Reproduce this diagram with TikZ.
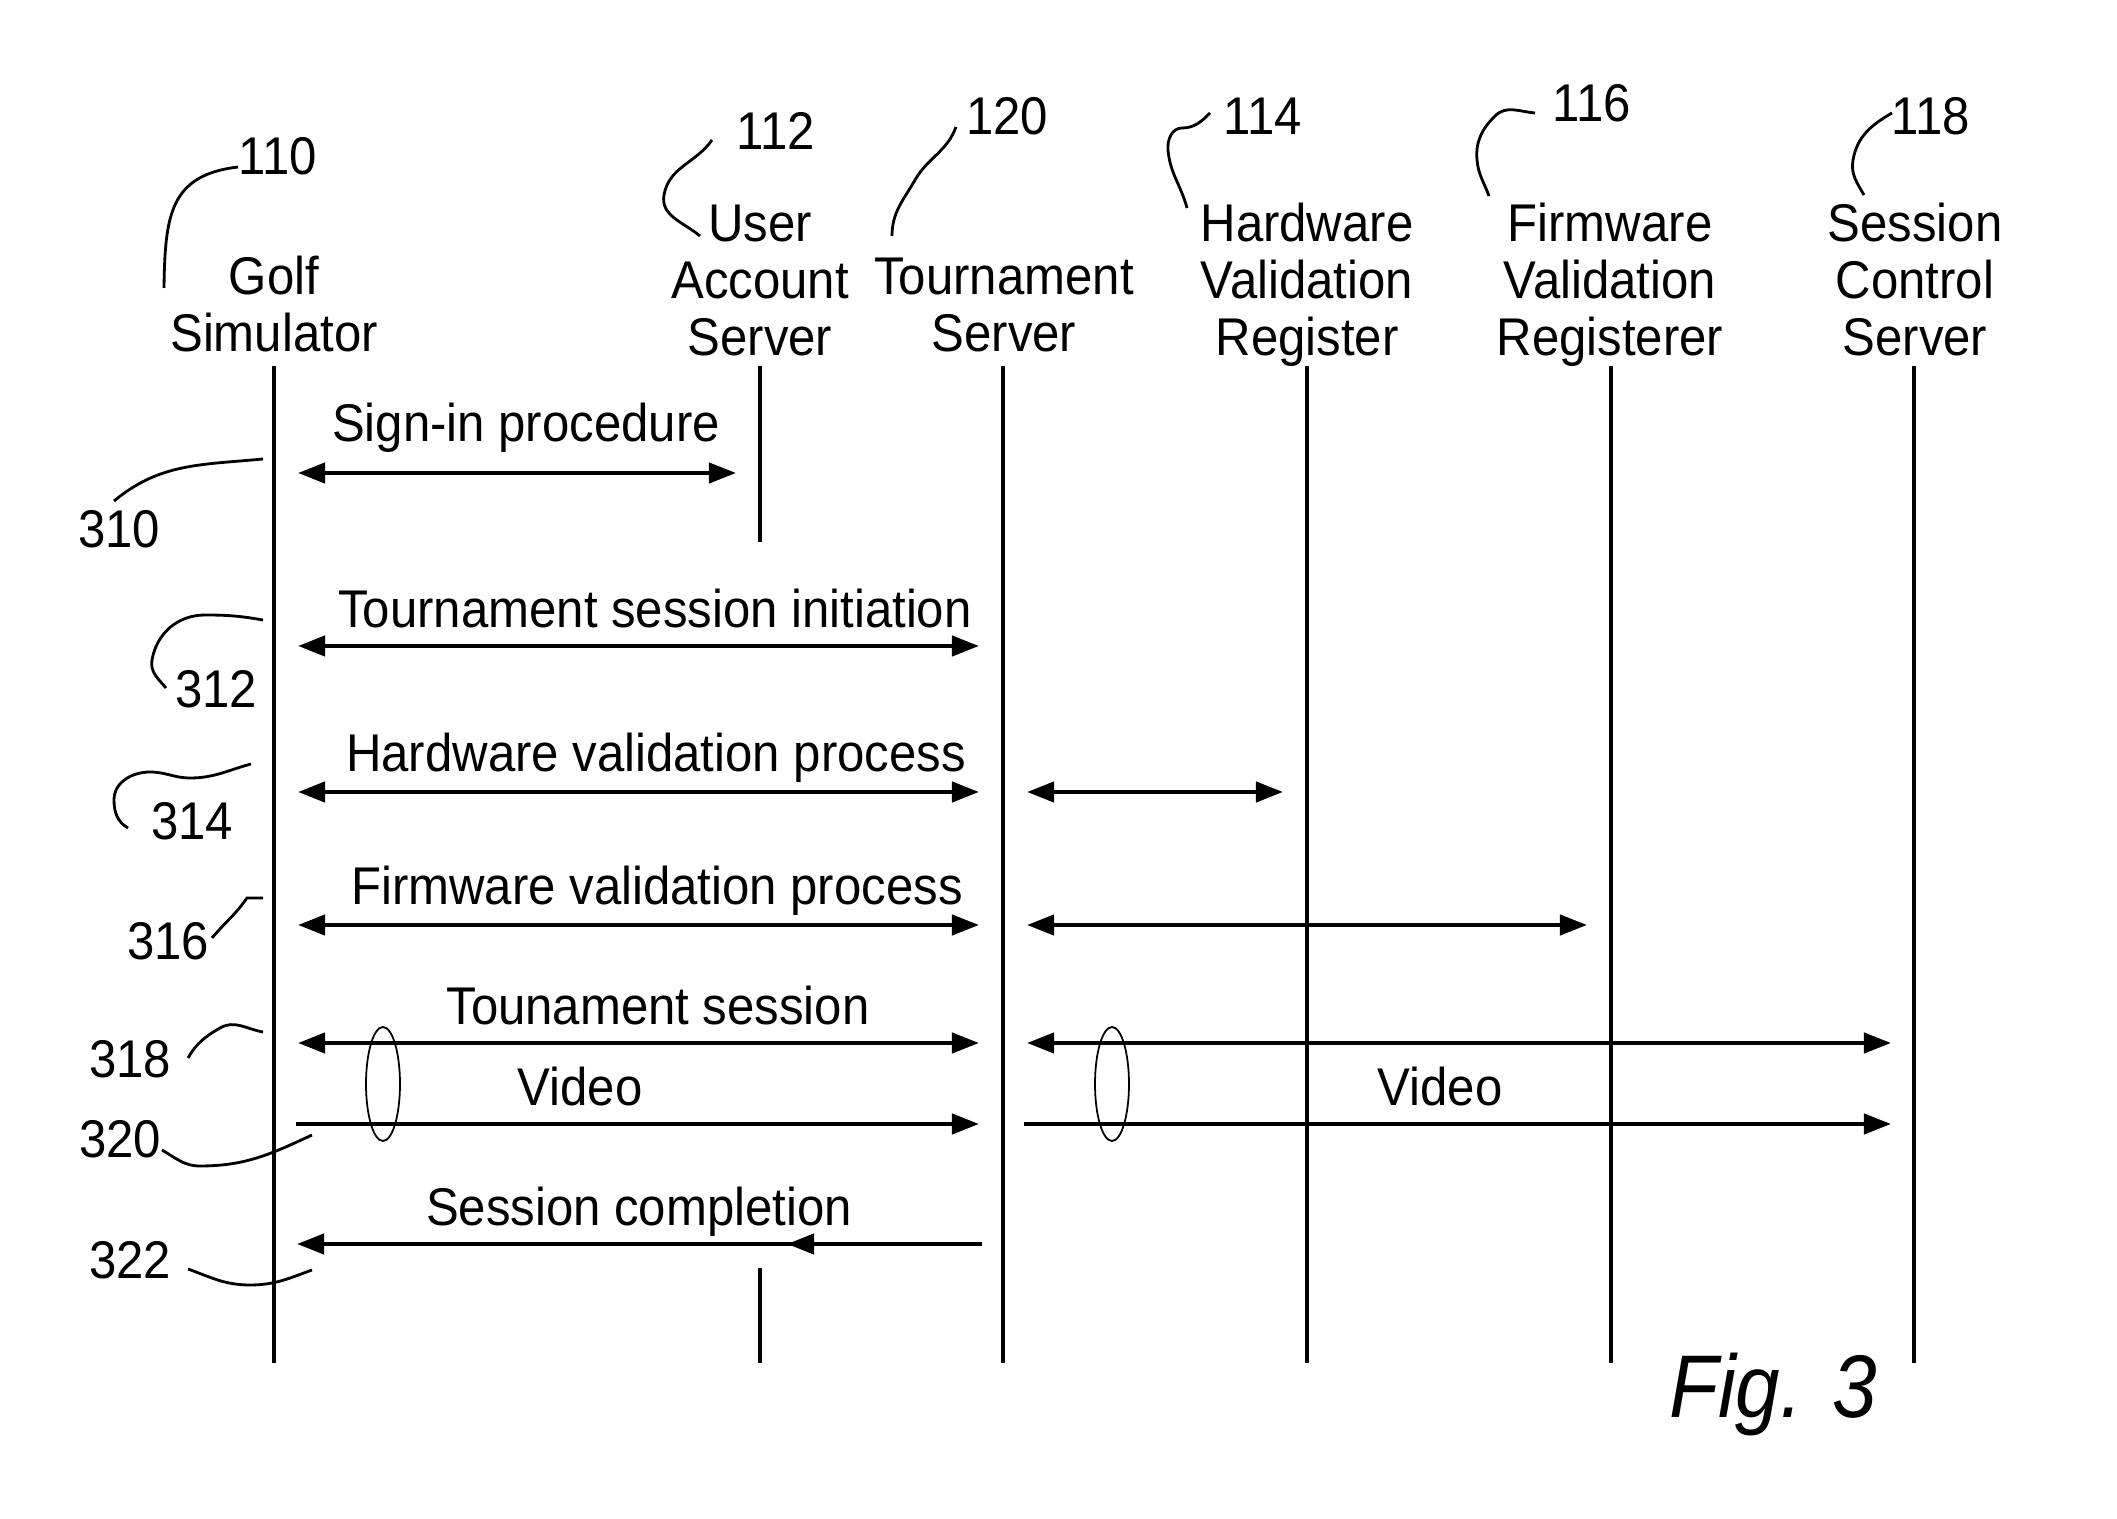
\documentclass[tikz,border=0pt]{standalone}
\usepackage{fontspec}
\setmainfont{Liberation Sans}[FakeStretch=0.925]
\newfontfamily\figfam{Liberation Sans}[FakeStretch=0.9]
\usetikzlibrary{arrows.meta}
\newcommand\dgfont{\fontsize{15.1pt}{16.2pt}\selectfont}
\newcommand\dgfigfont{\figfam\fontsize{25.3pt}{28pt}\selectfont\itshape}
\tikzset{
  life/.style={line width=0.9pt},
  tipA/.tip={Triangle[length=0.27cm,width=0.2cm]},
  msg/.style={line width=1.2pt,-tipA},
  bimsg/.style={line width=1.2pt,tipA-tipA},
  lead/.style={line width=0.8pt},
  ring/.style={line width=0.5pt},
  lbl/.style={anchor=base,inner sep=0pt,font=\dgfont},
  head/.style={anchor=base,inner sep=0pt,font=\dgfont},
}
\newcommand\hd[1]{\begin{tabular}[t]{@{}c@{}}#1\end{tabular}}
\begin{document}
\begin{tikzpicture}[x=0.01cm,y=-0.01cm]
\path[use as bounding box,fill=white] (0,0) rectangle (2117,1519);

% headers
\node[head] (gs) at (274,295) {\hd{Golf\\Simulator}};
\node[head] (ua) at (760,242) {\hd{User\\Account\\Server}};
\node[head] (ts) at (1004,295) {\hd{Tournament\\Server}};
\node[head] (hv) at (1307,242) {\hd{Hardware\\Validation\\Register}};
\node[head] (fv) at (1610,242) {\hd{Firmware\\Validation\\Registerer}};
\node[head] (sc) at (1915,242) {\hd{Session\\Control\\Server}};

% lifelines
\coordinate (gsT) at (274,366);  \coordinate (gsB) at (274,1363);
\coordinate (uaT) at (760,366);  \coordinate (uaM) at (760,542);
\coordinate (uaN) at (760,1268); \coordinate (uaB) at (760,1363);
\coordinate (tsT) at (1003,366); \coordinate (tsB) at (1003,1363);
\coordinate (hvT) at (1307,366); \coordinate (hvB) at (1307,1363);
\coordinate (fvT) at (1611,366); \coordinate (fvB) at (1611,1363);
\coordinate (scT) at (1914,366); \coordinate (scB) at (1914,1363);
\draw[life] (gsT) -- (gsB);
\draw[life] (uaT) -- (uaM);
\draw[life] (uaN) -- (uaB);
\draw[life] (tsT) -- (tsB);
\draw[life] (hvT) -- (hvB);
\draw[life] (fvT) -- (fvB);
\draw[life] (scT) -- (scB);

% messages
\coordinate (m1a) at (298,473); \coordinate (m1b) at (736,473);
\draw[bimsg] (m1a) -- (m1b);
\node[lbl] (l1) at (526,442) {Sign-in procedure};

\coordinate (m2a) at (298,646); \coordinate (m2b) at (979,646);
\draw[bimsg] (m2a) -- (m2b);
\node[lbl] (l2) at (655,628) {Tournament session initiation};

\coordinate (m3a) at (298,792); \coordinate (m3b) at (979,792);
\coordinate (m3c) at (1027,792); \coordinate (m3d) at (1283,792);
\draw[bimsg] (m3a) -- (m3b);
\draw[bimsg] (m3c) -- (m3d);
\node[lbl] (l3) at (656,772) {Hardware validation process};

\coordinate (m4a) at (298,925); \coordinate (m4b) at (979,925);
\coordinate (m4c) at (1027,925); \coordinate (m4d) at (1587,925);
\draw[bimsg] (m4a) -- (m4b);
\draw[bimsg] (m4c) -- (m4d);
\node[lbl] (l4) at (657,905) {Firmware validation process};

\coordinate (m5a) at (298,1043); \coordinate (m5b) at (979,1043);
\coordinate (m5c) at (1027,1043); \coordinate (m5d) at (1891,1043);
\draw[bimsg] (m5a) -- (m5b);
\draw[bimsg] (m5c) -- (m5d);
\node[lbl] (l5) at (658,1025) {Tounament session};

\coordinate (m6a) at (296,1124); \coordinate (m6b) at (979,1124);
\coordinate (m6c) at (1024,1124); \coordinate (m6d) at (1891,1124);
\draw[msg] (m6a) -- (m6b);
\draw[msg] (m6c) -- (m6d);
\node[lbl] (l6) at (580,1106) {Video};
\node[lbl] (l6b) at (1440,1106) {Video};

\draw[ring] (383,1084) ellipse [x radius=17, y radius=57];
\draw[ring] (1112,1084) ellipse [x radius=17, y radius=57];

\coordinate (m7a) at (982,1244); \coordinate (m7m) at (787,1244);
\coordinate (m7b) at (297,1244);
\draw[msg] (m7a) -- (m7b);
\draw[msg] (m7a) -- (m7m);
\node[lbl] (l7) at (639,1226) {Session completion};

% reference numerals
\node[lbl] (r110) at (278,175) {110};
\node[lbl] (r112) at (776,150) {112};
\node[lbl] (r120) at (1007,135) {120};
\node[lbl] (r114) at (1263,135) {114};
\node[lbl] (r116) at (1592,122) {116};
\node[lbl] (r118) at (1931,135) {118};
\node[lbl] (r310) at (119,548) {310};
\node[lbl] (r312) at (216,708) {312};
\node[lbl] (r314) at (192,840) {314};
\node[lbl] (r316) at (168,960) {316};
\node[lbl] (r318) at (130,1078) {318};
\node[lbl] (r320) at (120,1158) {320};
\node[lbl] (r322) at (130,1278) {322};

% leaders
\draw[lead] (164,288) .. controls (165,215) and (170,175) .. (238,167);
\draw[lead] (712,140) to[out=235,in=80] (664,195) to[out=260,in=140] (700,236);
\draw[lead] (956,127) to[out=250,in=60] (915,180) to[out=240,in=90] (892,236);
\draw[lead] (1210,113) to[out=225,in=0] (1182,128) to[out=180,in=95] (1168,150) to[out=275,in=105] (1187,208);
\draw[lead] (1535,113) to[out=175,in=45] (1495,116) to[out=225,in=95] (1477,160) to[out=275,in=110] (1489,196);
\draw[lead] (1892,113) to[out=210,in=80] (1853,160) to[out=260,in=120] (1864,195);
\draw[lead] (263,459) .. controls (200,465) and (160,463) .. (114,501);
\draw[lead] (263,620) to[out=170,in=0] (205,615) to[out=180,in=80] (152,660) to[out=260,in=130] (166,688);
\draw[lead] (251,764) to[out=195,in=0] (190,778) to[out=180,in=0] (150,772) to[out=180,in=90] (114,800) to[out=270,in=150] (128,828);
\draw[lead] (263,898) -- (247,898) to[out=235,in=50] (212,938);
\draw[lead] (263,1032) to[out=170,in=30] (220,1028) to[out=210,in=60] (188,1058);
\draw[lead] (312,1135) to[out=205,in=0] (200,1166) to[out=180,in=-30] (162,1150);
\draw[lead] (312,1270) to[out=200,in=0] (250,1285) to[out=180,in=-20] (188,1269);

\node[anchor=base,inner sep=0pt,font=\dgfigfont] (fig) at (1773,1417) {Fig. 3};
\end{tikzpicture}
\end{document}
